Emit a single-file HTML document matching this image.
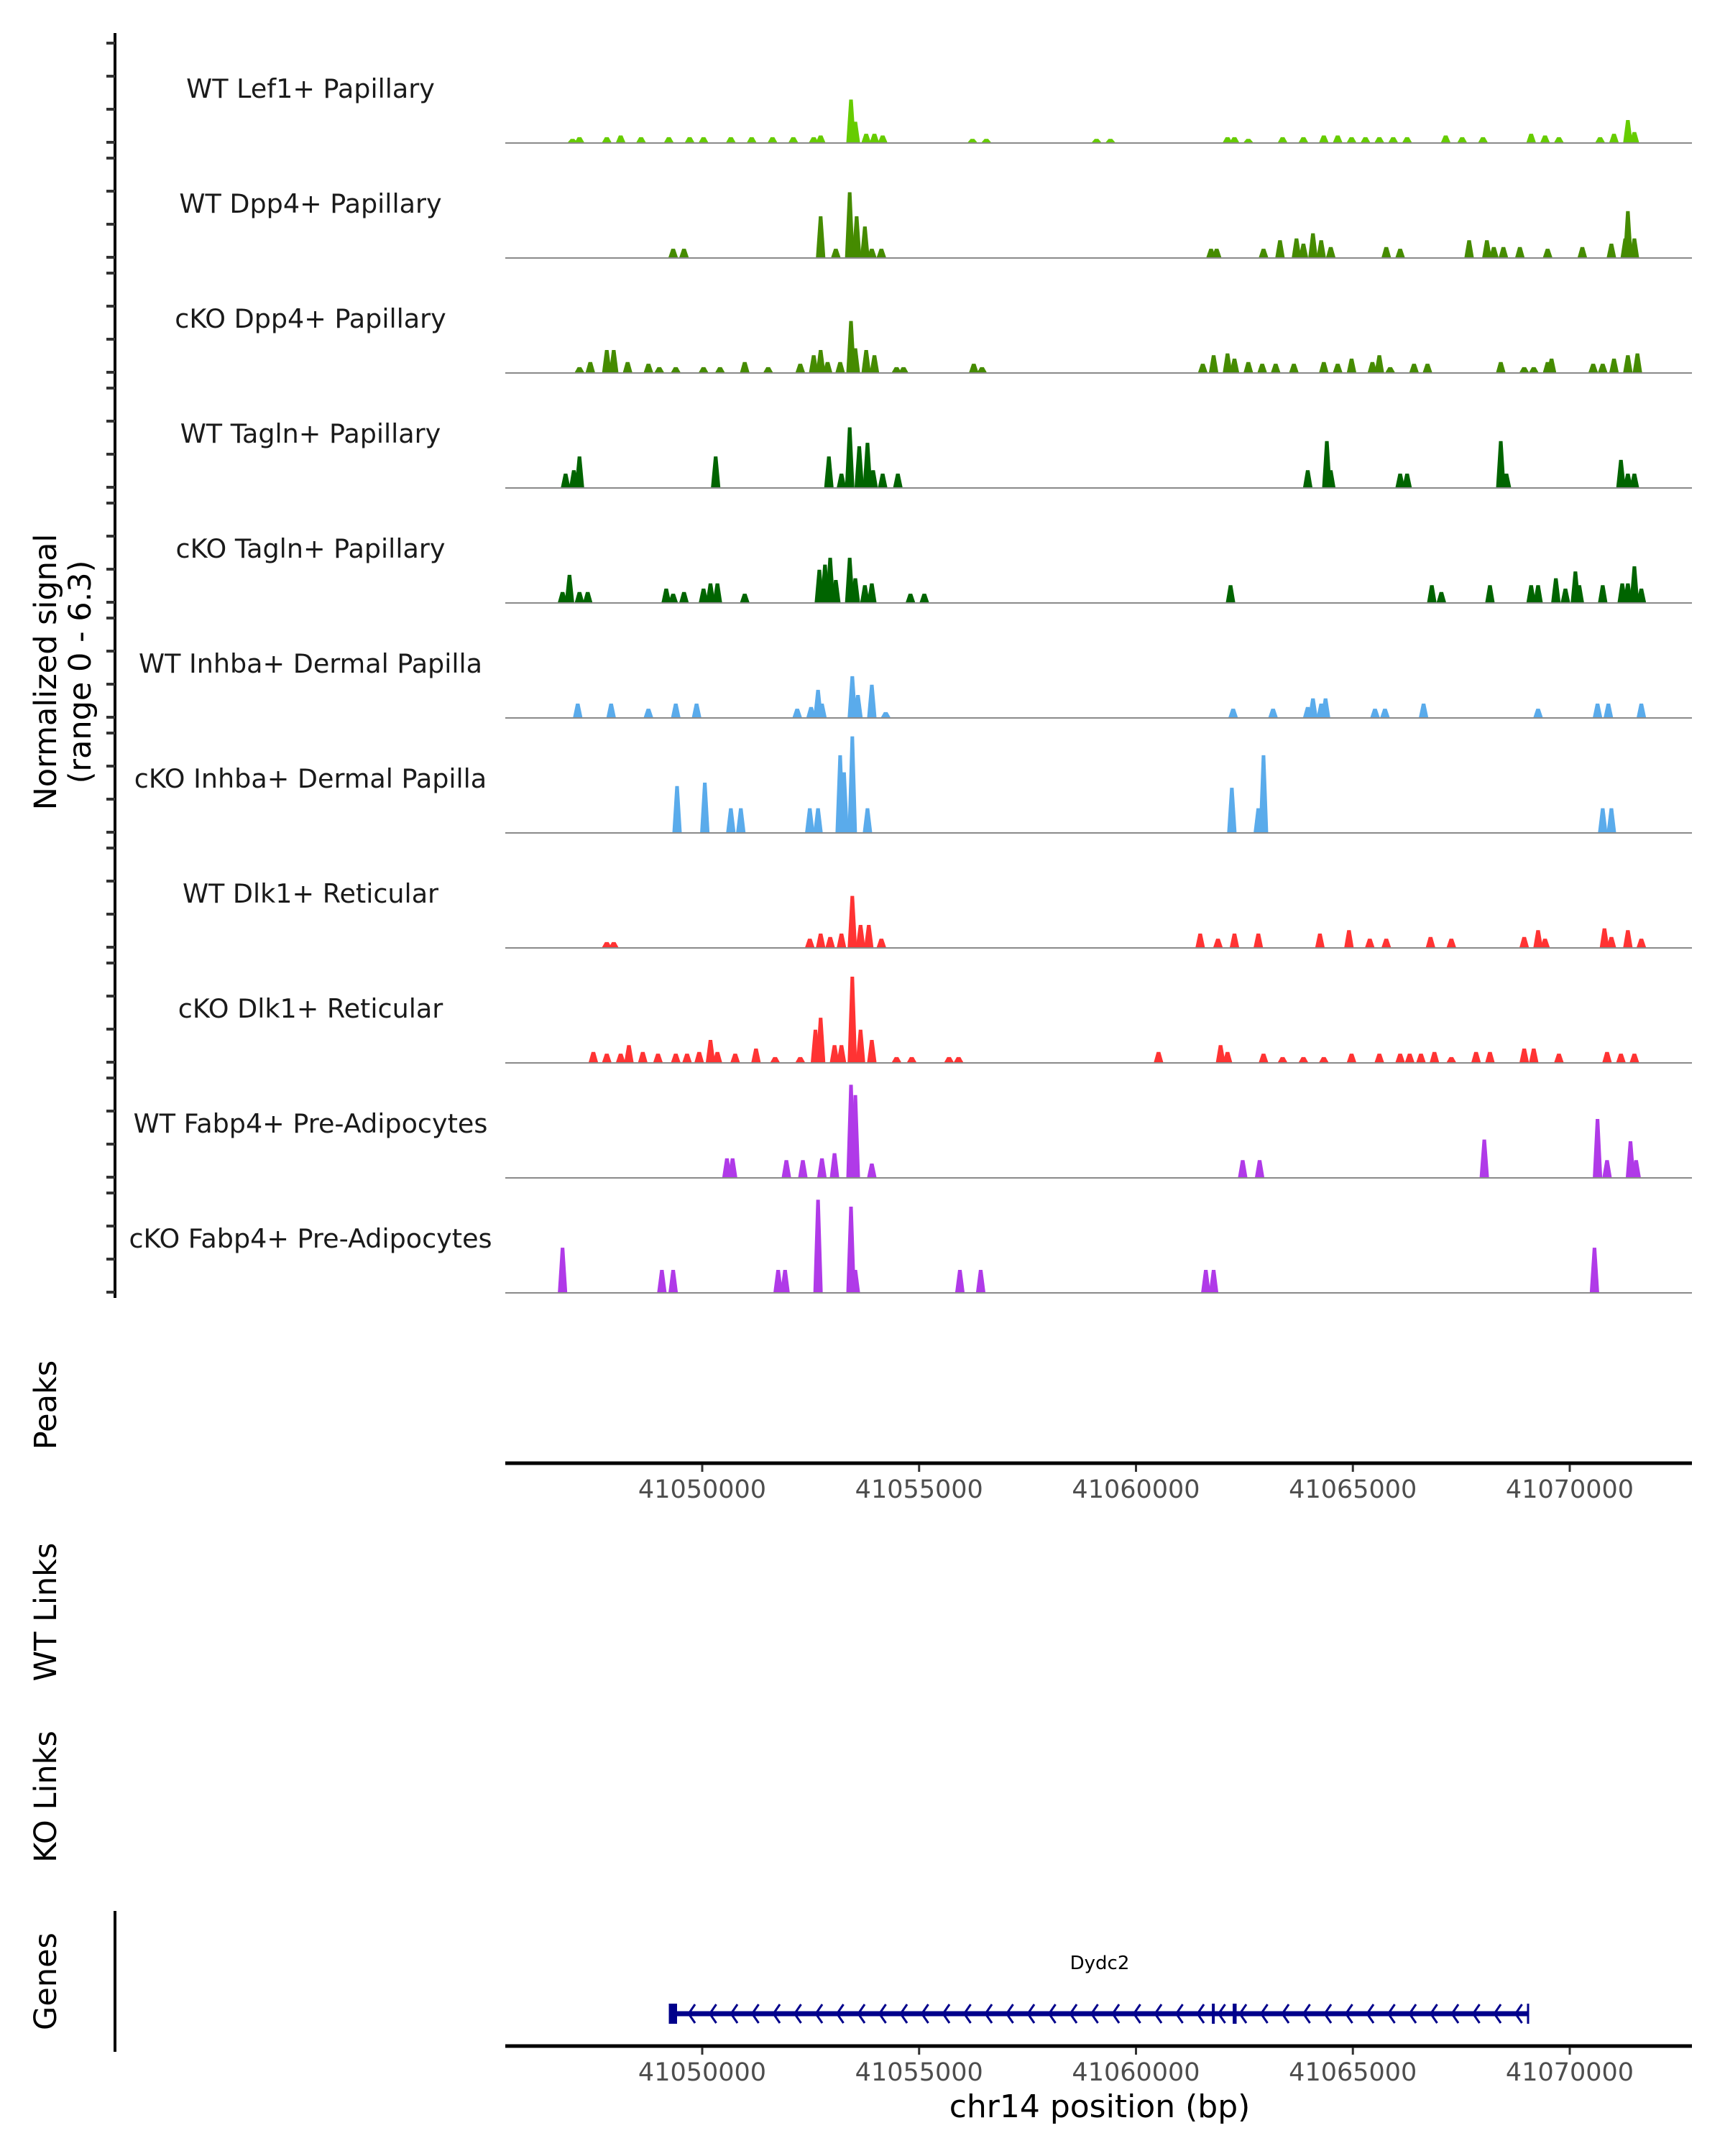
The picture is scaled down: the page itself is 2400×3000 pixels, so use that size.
<!DOCTYPE html>
<html><head><meta charset="utf-8">
<style>
html,body{margin:0;padding:0;background:#fff;}
svg{display:block;font-family:"DejaVu Sans","Liberation Sans",sans-serif;}
</style></head>
<body>
<svg id="chart" width="2400" height="3000" viewBox="0 0 2400 3000" xmlns="http://www.w3.org/2000/svg">
  <g id="tracks"></g>
  <g id="leftaxis"></g>
  <text transform="translate(78,935) rotate(-90)" text-anchor="middle" font-size="43" fill="#000">Normalized signal</text>
  <text transform="translate(126,935) rotate(-90)" text-anchor="middle" font-size="43" fill="#000">(range 0 - 6.3)</text>
  <text transform="translate(78,1955) rotate(-90)" text-anchor="middle" font-size="43" fill="#000">Peaks</text>
  <text transform="translate(78,2243) rotate(-90)" text-anchor="middle" font-size="43" fill="#000">WT Links</text>
  <text transform="translate(78,2500) rotate(-90)" text-anchor="middle" font-size="43" fill="#000">KO Links</text>
  <text transform="translate(78,2757) rotate(-90)" text-anchor="middle" font-size="43" fill="#000">Genes</text>
  <line x1="160" y1="2659" x2="160" y2="2855" stroke="#000" stroke-width="4"/>
  <g id="axis1"></g>
  <g id="axis2"></g>
  <g id="genes"></g>
  <text x="1530" y="2946" text-anchor="middle" font-size="44" fill="#000">chr14 position (bp)</text>
</svg>
<script>
// ---- data (positions in kb, values in normalized signal) ----
const trackNames = ["WT Lef1+ Papillary","WT Dpp4+ Papillary","cKO Dpp4+ Papillary","WT Tagln+ Papillary","cKO Tagln+ Papillary","WT Inhba+ Dermal Papilla","cKO Inhba+ Dermal Papilla","WT Dlk1+ Reticular","cKO Dlk1+ Reticular","WT Fabp4+ Pre-Adipocytes","cKO Fabp4+ Pre-Adipocytes"];
const trackColors = ["#66cc00","#458b00","#458b00","#006400","#006400","#5aabeb","#5aabeb","#ff3333","#ff3333","#b03ae8","#b03ae8"];
const tickLabels = [41050000,41055000,41060000,41065000,41070000];
const pos0 = [41047.01,41047.17,41047.80,41048.12,41048.59,41049.23,41049.71,41050.03,41050.66,41051.14,41051.62,41052.10,41052.57,41052.73,41053.43,41053.53,41053.78,41053.97,41054.16,41056.23,41056.55,41059.09,41059.41,41062.11,41062.27,41062.59,41063.38,41063.86,41064.33,41064.65,41064.97,41065.29,41065.61,41065.93,41066.25,41067.14,41067.52,41068.00,41069.11,41069.43,41069.75,41070.70,41071.02,41071.34,41071.49];
const val0 = [.2,.3,.3,.4,.3,.3,.3,.3,.3,.3,.3,.3,.3,.4,2.5,1.2,.5,.5,.4,.2,.2,.2,.2,.3,.3,.2,.3,.3,.4,.4,.3,.3,.3,.3,.3,.4,.3,.3,.5,.4,.3,.3,.5,1.3,.6];
const pos1 = [41049.33,41049.58,41052.73,41053.08,41053.40,41053.56,41053.75,41053.91,41054.13,41061.73,41061.86,41062.94,41063.32,41063.70,41063.86,41064.08,41064.27,41064.49,41065.77,41066.09,41067.68,41068.09,41068.25,41068.47,41068.85,41069.49,41070.29,41070.96,41071.28,41071.34,41071.49];
const val1 = [.5,.5,2.4,.5,3.8,2.4,1.8,.5,.5,.5,.5,.5,1.0,1.1,.8,1.4,1.0,.6,.6,.5,1.0,1.0,.6,.6,.6,.5,.6,.8,1.1,2.7,1.1];
const pos2 = [41047.17,41047.42,41047.80,41047.96,41048.28,41048.76,41049.01,41049.39,41050.03,41050.41,41050.98,41051.52,41052.26,41052.57,41052.73,41052.89,41053.18,41053.43,41053.53,41053.78,41053.97,41054.48,41054.64,41056.26,41056.45,41061.54,41061.79,41062.11,41062.27,41062.59,41062.91,41063.22,41063.64,41064.33,41064.65,41064.97,41065.45,41065.61,41065.86,41066.41,41066.72,41068.41,41068.95,41069.17,41069.49,41069.58,41070.54,41070.76,41071.02,41071.34,41071.56];
const val2 = [.3,.6,1.3,1.3,.6,.5,.3,.3,.3,.3,.6,.3,.5,1.0,1.3,.6,.6,3.0,1.4,1.3,1.0,.3,.3,.5,.3,.5,1.0,1.1,.8,.6,.5,.5,.5,.6,.5,.8,.6,1.0,.3,.5,.5,.6,.3,.3,.6,.8,.5,.5,.8,1.0,1.1];
const pos3 = [41046.85,41047.04,41047.17,41050.31,41052.92,41053.21,41053.40,41053.62,41053.81,41053.94,41054.16,41054.51,41063.96,41064.40,41064.49,41066.09,41066.25,41068.41,41068.54,41071.18,41071.34,41071.49];
const val3 = [.8,1.0,1.8,1.8,1.8,.8,3.5,2.4,2.6,1.0,.8,.8,1.0,2.7,1.0,.8,.8,2.7,.8,1.6,.8,.8];
const pos4 = [41046.78,41046.94,41047.17,41047.36,41049.17,41049.33,41049.58,41050.03,41050.19,41050.35,41050.98,41052.70,41052.83,41052.95,41053.08,41053.40,41053.53,41053.75,41053.91,41054.80,41055.12,41062.18,41066.82,41067.04,41068.16,41069.11,41069.27,41069.68,41069.90,41070.13,41070.22,41070.76,41071.21,41071.34,41071.49,41071.65];
const val4 = [.6,1.6,.6,.6,.8,.5,.6,.8,1.1,1.1,.5,1.9,2.2,2.6,1.3,2.6,1.4,1.0,1.1,.5,.5,1.0,1.0,.6,1.0,1.0,1.0,1.4,.8,1.8,1.0,1.0,1.1,1.1,2.1,.8];
const pos5 = [41047.13,41047.90,41048.76,41049.39,41049.87,41052.19,41052.51,41052.67,41052.76,41053.46,41053.59,41053.91,41054.23,41062.24,41063.16,41063.96,41064.08,41064.27,41064.37,41065.51,41065.74,41066.63,41069.27,41070.64,41070.89,41071.65];
const val5 = [.8,.8,.5,.8,.8,.5,.6,1.6,.8,2.4,1.3,1.9,.3,.5,.5,.6,1.1,.8,1.1,.5,.5,.8,.5,.8,.8,.8];
const pos6 = [41049.42,41050.06,41050.66,41050.89,41052.48,41052.67,41053.18,41053.27,41053.46,41053.81,41062.21,41062.82,41062.94,41070.76,41070.96];
const val6 = [2.7,2.9,1.4,1.4,1.4,1.4,4.5,3.5,5.6,1.4,2.6,1.4,4.5,1.4,1.4];
const pos7 = [41047.80,41047.96,41052.48,41052.73,41052.95,41053.21,41053.46,41053.65,41053.84,41054.13,41061.48,41061.89,41062.27,41062.82,41064.24,41064.91,41065.39,41065.77,41066.79,41067.27,41068.95,41069.27,41069.43,41070.80,41070.96,41071.34,41071.65];
const val7 = [.3,.3,.5,.8,.6,.8,3.0,1.3,1.3,.5,.8,.5,.8,.8,.8,1.0,.5,.5,.6,.5,.6,1.0,.5,1.1,.6,1.0,.5];
const pos8 = [41047.49,41047.80,41048.12,41048.31,41048.63,41048.98,41049.39,41049.65,41049.93,41050.19,41050.35,41050.76,41051.24,41051.68,41052.26,41052.61,41052.73,41053.05,41053.21,41053.46,41053.65,41053.91,41054.48,41054.83,41055.69,41055.91,41060.52,41061.95,41062.11,41062.94,41063.38,41063.86,41064.33,41064.97,41065.61,41066.09,41066.31,41066.57,41066.88,41067.27,41067.84,41068.16,41068.95,41069.17,41069.75,41070.86,41071.18,41071.49];
const val8 = [.6,.5,.5,1.0,.6,.5,.5,.5,.6,1.3,.6,.5,.8,.3,.3,1.9,2.6,1.0,1.0,5.0,1.9,1.3,.3,.3,.3,.3,.6,1.0,.6,.5,.3,.3,.3,.5,.5,.5,.5,.5,.6,.3,.6,.6,.8,.8,.5,.6,.5,.5];
const pos9 = [41050.57,41050.70,41051.94,41052.32,41052.76,41053.05,41053.43,41053.53,41053.91,41062.46,41062.85,41068.03,41070.64,41070.86,41071.40,41071.53];
const val9 = [1.1,1.1,1.0,1.0,1.1,1.4,5.4,4.8,.8,1.0,1.0,2.2,3.4,1.0,2.1,1.0];
const pos10 = [41046.78,41049.07,41049.33,41051.75,41051.91,41052.67,41053.43,41053.53,41055.94,41056.42,41061.61,41061.79,41070.57];
const val10 = [2.6,1.3,1.3,1.3,1.3,5.4,5.0,1.3,1.3,1.3,1.3,1.3,2.6];
const trackPos = [pos0,pos1,pos2,pos3,pos4,pos5,pos6,pos7,pos8,pos9,pos10];
const trackVal = [val0,val1,val2,val3,val4,val5,val6,val7,val8,val9,val10];
const geneStart = 41049288, geneEnd = 41069039;
const exonStarts = [41049230, 41061750, 41062230];
const exonEnds = [41049420, 41061790, 41062320];

// ---- scales ----
const X0 = 703, X1 = 2354;
function xScale(bp){ return 977 + (bp - 41050000) * 0.06035; }
const SIG_MAX = 6.3, TRACK_H = 150;
function yScale(v, base){ return base - v / SIG_MAX * TRACK_H; }
const NS = "http://www.w3.org/2000/svg";
function mk(tag, attrs, parent){ const e = document.createElementNS(NS, tag); for (const k in attrs) e.setAttribute(k, attrs[k]); parent.appendChild(e); return e; }

const tracks = document.getElementById("tracks");
const leftAxis = document.getElementById("leftaxis");
for (let i = 0; i < trackNames.length; i++) {
  const base = 198 + 160 * i;
  const g = mk("g", {}, tracks);
  
  
  const t = mk("text", {x: 432, y: base - 62, "text-anchor": "middle", "font-size": 36.5, fill: "#1a1a1a"}, g);
  t.textContent = trackNames[i];
  
  
  const ps = trackPos[i], vs = trackVal[i];
  for (let j = 0; j < ps.length; j++) {
    const cx = xScale(ps[j] * 1000), top = yScale(vs[j], base);
    const hw = 6.5, tw = 2.5;
    const p = mk("polygon", {points: `${cx-hw},${base} ${cx-tw},${top} ${cx+tw},${top} ${cx+hw},${base}`, fill: trackColors[i]}, g);
    
    
  }
  const bl = mk("line", {x1: X0, x2: X1, y1: base + 1, y2: base + 1, stroke: "#8a8a8a", "stroke-width": 2}, g);
  
  
  const ax = mk("line", {x1: 160, x2: 160, y1: base - 152, y2: base + 8, stroke: "#000", "stroke-width": 4}, leftAxis);
  
  
  for (let k = 0; k < 4; k++) {
    const ty = base - 46 * k;
    const tk = mk("line", {x1: 148, x2: 160, y1: ty, y2: ty, stroke: "#333", "stroke-width": 4}, leftAxis);
    
    
  }
}

function drawAxis(id, y) {
  const g = document.getElementById(id);
  const l = mk("line", {x1: X0, x2: X1, y1: y, y2: y, stroke: "#000", "stroke-width": 5}, g);
  
  
  for (const v of tickLabels) {
    const x = xScale(v);
    const tk = mk("line", {x1: x, x2: x, y1: y + 2, y2: y + 12, stroke: "#333", "stroke-width": 3}, g);
    
    
    const tx = mk("text", {x: x, y: y + 48, "text-anchor": "middle", "font-size": 35, fill: "#4d4d4d"}, g);
    tx.textContent = String(v);
    
    
  }
}
drawAxis("axis1", 2036);
drawAxis("axis2", 2847);

// gene
const gg = document.getElementById("genes");
const gy = 2802;
const gl = mk("line", {x1: xScale(geneStart), x2: xScale(geneEnd), y1: gy, y2: gy, stroke: "#00008b", "stroke-width": 7}, gg);


for (let x = xScale(geneStart) + 28; x < xScale(geneEnd) - 8; x += 29.5) {
  const a = mk("polyline", {points: `${x+5},${gy-13} ${x-4},${gy} ${x+5},${gy+13}`, fill: "none", stroke: "#00008b", "stroke-width": 3}, gg);
  
  
}
for (let i = 0; i < exonStarts.length; i++) {
  const x1 = xScale(exonStarts[i]), x2 = xScale(exonEnds[i]);
  const r = mk("rect", {x: x1, y: gy - 14, width: Math.max(4, x2 - x1), height: 28, fill: "#00008b"}, gg);
  
  
}
const endTick = mk("line", {x1: xScale(geneEnd), x2: xScale(geneEnd), y1: gy - 14, y2: gy + 14, stroke: "#00008b", "stroke-width": 3}, gg);


const gt = mk("text", {x: xScale((geneStart + geneEnd) / 2), y: 2740, "text-anchor": "middle", "font-size": 26, fill: "#000"}, gg);
gt.textContent = "Dydc2";


</script>
</body></html>
